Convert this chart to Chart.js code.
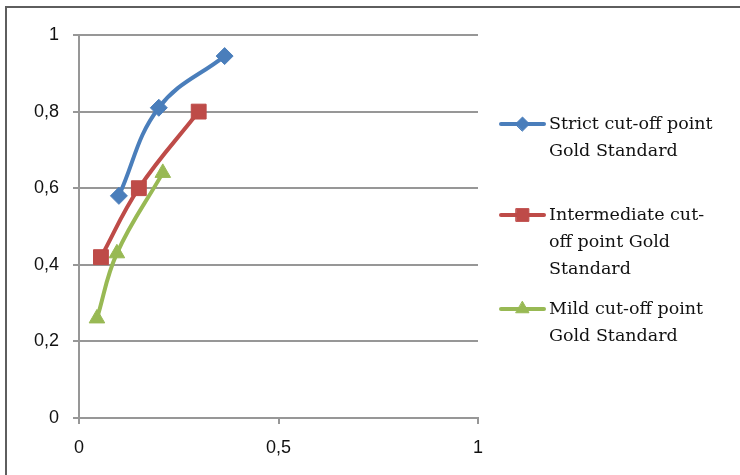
<!DOCTYPE html>
<html>
<head>
<meta charset="utf-8">
<script src="https://cdn.jsdelivr.net/npm/chart.js@4/dist/chart.umd.min.js"></script>
<style>
  html, body { margin: 0; padding: 0; background: #ffffff; overflow: hidden; }
  #wrap { position: relative; width: 740px; height: 475px; overflow: hidden; background: #ffffff; }
  #frame { position: absolute; left: 5px; top: 6px; width: 800px; height: 600px;
           border-left: 2px solid #5e5e5e; border-top: 2px solid #5e5e5e; pointer-events: none; }
  #c { display: block; position: absolute; left: 0; top: 0; }
</style>
</head>
<body>
<div id="wrap"><canvas id="c" width="740" height="475"></canvas><div id="frame"></div></div>
<script>
// Sensitivity (y) against 1 - specificity (x) for three cut-off points
const strictX = [0.10, 0.20, 0.365];
const strictY = [0.58, 0.81, 0.945];
const intermediateX = [0.055, 0.15, 0.30];
const intermediateY = [0.42, 0.60, 0.80];
const mildX = [0.045, 0.095, 0.21];
const mildY = [0.26, 0.43, 0.64];

const seriesNames = [
  ['Strict cut-off point', 'Gold Standard'],
  ['Intermediate cut-', 'off point Gold', 'Standard'],
  ['Mild cut-off point', 'Gold Standard']
];
const xTicks = [0, 0.5, 1];
const yTicks = [0, 0.2, 0.4, 0.6, 0.8, 1];

const toPoints = (xs, ys) => xs.map((x, i) => ({ x: x, y: ys[i] }));
const fmt = v => String(v).replace('.', ',');

const BLUE = '#4a7ebb', RED = '#be4b48', GREEN = '#98b954';
const GRID = '#979797';

function series(label, xs, ys, color, style, radius) {
  return {
    label: label.join(' '),
    data: toPoints(xs, ys),
    borderColor: color,
    backgroundColor: color,
    borderWidth: 4,
    pointStyle: style,
    pointRadius: radius,
    pointHoverRadius: radius,
    pointBorderWidth: 1,
    tension: 0.4,
    showLine: true
  };
}

// Legend with wrapped labels drawn to the right of the plot
const sideLegend = {
  id: 'sideLegend',
  afterDraw(chart) {
    const ctx = chart.ctx;
    const rows = [124, 215, 309];
    const lineGap = 27;
    ctx.save();
    ctx.font = '17.5px "DejaVu Serif"';
    ctx.textBaseline = 'middle';
    ctx.textAlign = 'left';
    chart.data.datasets.forEach((ds, i) => {
      const y = rows[i];
      ctx.strokeStyle = ds.borderColor;
      ctx.lineWidth = 4;
      ctx.lineCap = 'round';
      ctx.beginPath();
      ctx.moveTo(501, y);
      ctx.lineTo(544, y);
      ctx.stroke();
      ctx.fillStyle = ds.backgroundColor;
      ctx.strokeStyle = ds.borderColor;
      ctx.lineWidth = 1;
      Chart.helpers.drawPoint(ctx, { pointStyle: ds.pointStyle, radius: ds.pointRadius - 1.5, borderWidth: 1, rotation: 0 }, 522.5, y);
      ctx.fillStyle = '#111111';
      seriesNames[i].forEach((t, k) => ctx.fillText(t, 549, y + k * lineGap));
    });
    ctx.restore();
  }
};

new Chart(document.getElementById('c'), {
  type: 'scatter',
  data: {
    datasets: [
      series(seriesNames[0], strictX, strictY, BLUE, 'rectRot', 8.5),
      series(seriesNames[1], intermediateX, intermediateY, RED, 'rect', 10.5),
      series(seriesNames[2], mildX, mildY, GREEN, 'triangle', 9)
    ]
  },
  options: {
    responsive: false,
    animation: false,
    layout: { padding: { top: 35, left: 0, right: 262, bottom: 0 } },
    plugins: {
      legend: { display: false },
      tooltip: { enabled: false }
    },
    scales: {
      x: {
        type: 'linear',
        min: 0, max: 1,
        afterBuildTicks(scale) { scale.ticks = xTicks.map(v => ({ value: v })); },
        afterFit(scale) { scale.height = 57; },
        grid: { display: true, drawOnChartArea: false, drawTicks: true, tickLength: 6, color: GRID, lineWidth: 2 },
        border: { display: true, color: GRID, width: 2 },
        ticks: {
          padding: 13,
          color: '#111111',
          font: { family: '"Liberation Sans"', size: 18 },
          maxRotation: 0,
          callback: v => fmt(v)
        }
      },
      y: {
        type: 'linear',
        min: 0, max: 1,
        afterBuildTicks(scale) { scale.ticks = yTicks.map(v => ({ value: v })); },
        afterFit(scale) { scale.width = 79; },
        grid: { display: true, drawTicks: true, tickLength: 6, color: GRID, lineWidth: 2 },
        border: { display: true, color: GRID, width: 2 },
        ticks: {
          padding: 14,
          color: '#111111',
          font: { family: '"Liberation Sans"', size: 18 },
          callback: v => fmt(v)
        }
      }
    }
  },
  plugins: [sideLegend]
});
</script>
</body>
</html>
